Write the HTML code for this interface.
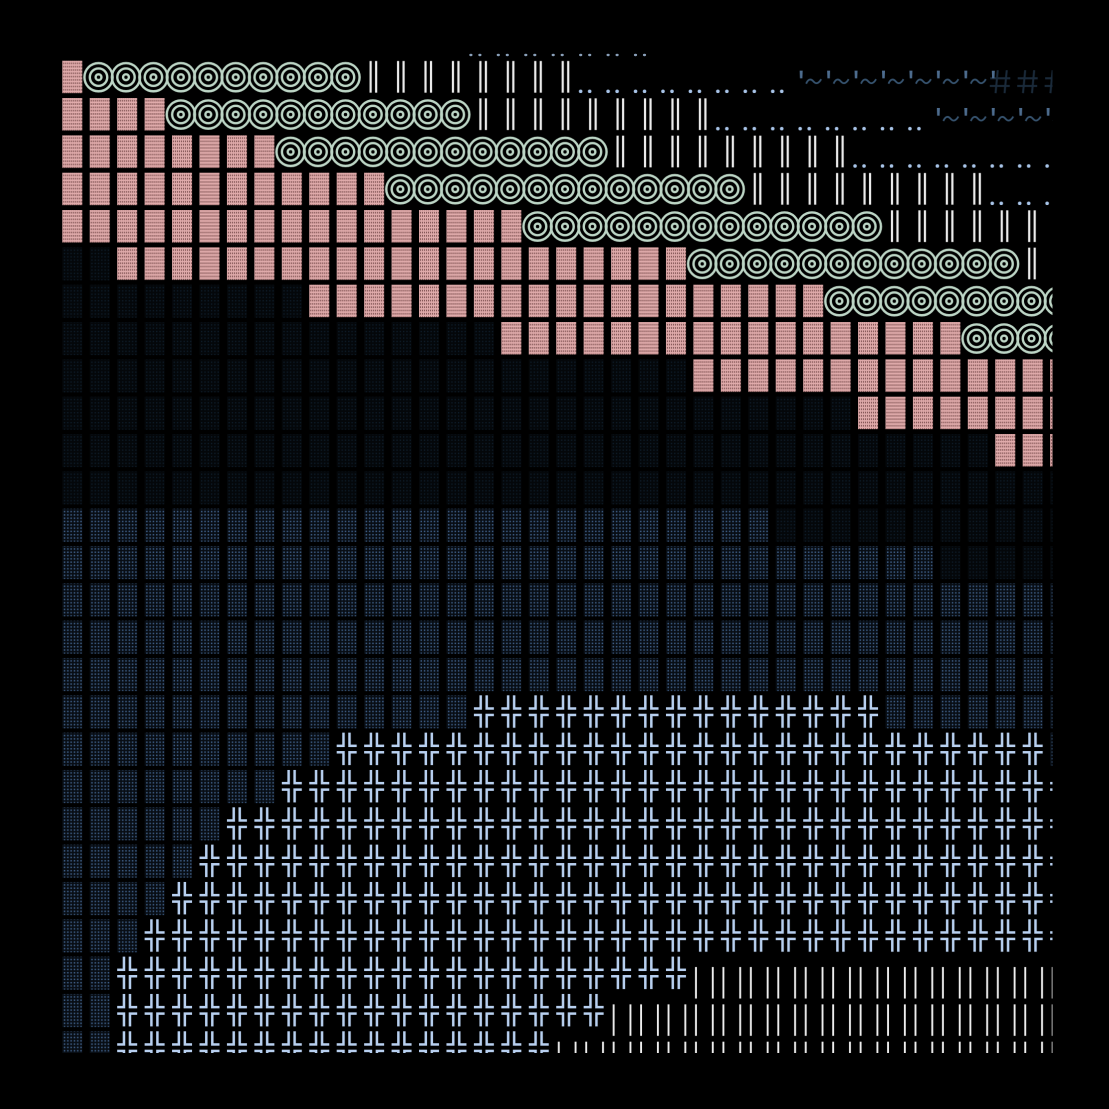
<!DOCTYPE html>
<html><head><meta charset="utf-8"><style>html,body{margin:0;padding:0;background:#000;}svg{display:block;}</style></head>
<body>
<svg xmlns="http://www.w3.org/2000/svg" width="1109" height="1109" viewBox="0 0 1109 1109">
<defs>
<clipPath id="cl"><rect x="0" y="53" width="1052.5" height="1000"/></clipPath>
<pattern id="ptex" patternUnits="userSpaceOnUse" width="2" height="3.3"><rect width="2" height="3.3" fill="#e0abab"/><rect x="1" y="0.6" width="1" height="1.6" fill="#744848"/></pattern>
<pattern id="btex" patternUnits="userSpaceOnUse" width="3.3" height="3.3"><rect width="3.3" height="3.3" fill="#080d14"/><rect x="0.9" y="0.9" width="1.5" height="1.5" fill="#3d5c84"/></pattern>
<pattern id="ktex" patternUnits="userSpaceOnUse" width="3.3" height="3.3"><rect width="3.3" height="3.3" fill="#04070a"/><rect x="1" y="1" width="1.2" height="1.2" fill="#0f1f2e"/></pattern>
<pattern id="P" patternUnits="userSpaceOnUse" x="56.3" y="58.7" width="27.44" height="37.33"><rect x="6" y="2" width="20" height="32.5" fill="url(#ptex)"/></pattern>
<pattern id="B" patternUnits="userSpaceOnUse" x="56.3" y="58.7" width="27.44" height="37.33"><rect x="6" y="2" width="20" height="33" fill="url(#btex)"/></pattern>
<pattern id="K" patternUnits="userSpaceOnUse" x="56.3" y="58.7" width="27.44" height="37.33"><rect x="6" y="2" width="20" height="33" fill="url(#ktex)"/></pattern>
<pattern id="V" patternUnits="userSpaceOnUse" x="56.3" y="58.7" width="27.44" height="37.33"><rect x="11.4" y="2.3" width="2.2" height="31.7" fill="#ececec"/><rect x="16.9" y="2.3" width="2.2" height="31.7" fill="#ececec"/></pattern>
<pattern id="D" patternUnits="userSpaceOnUse" x="56.3" y="58.7" width="27.44" height="37.33"><circle cx="3" cy="32.6" r="1.8" fill="#a8c4e8"/><circle cx="12" cy="32.6" r="1.8" fill="#a8c4e8"/></pattern>
<pattern id="T" patternUnits="userSpaceOnUse" x="56.3" y="58.7" width="27.44" height="37.33"><path d="M2.5,12 H5.5 L5.2,19.6 H2.8 Z" fill="#4d6c8e"/><path d="M9,25 C11,20 14,20 16,22.5 S21,26 24,20.5" fill="none" stroke="#36536f" stroke-width="1.8"/></pattern>
<pattern id="H" patternUnits="userSpaceOnUse" x="56.3" y="58.7" width="27.44" height="37.33"><g stroke="#1a2a3a" stroke-width="2" fill="none"><path d="M8.5,11.5 L6.3,34.5"/><path d="M17.5,11.5 L15.3,34.5"/><path d="M1,19.6 H21"/><path d="M0.5,27.3 H20.5"/></g></pattern>
<pattern id="X" patternUnits="userSpaceOnUse" x="56.3" y="58.7" width="27.44" height="37.33"><g stroke="#b8d0f0" stroke-width="2.5" fill="none"><path d="M12.8,2 V15.2 H6"/><path d="M18.8,2 V15.2 H26"/><path d="M6,21.6 H12.8 V34.5"/><path d="M26,21.6 H18.8 V34.5"/></g></pattern>
<pattern id="W" patternUnits="userSpaceOnUse" x="56.3" y="66.7" width="27.44" height="37.33"><rect x="7.6" y="4.4" width="1.9" height="31.5" fill="#eeeeee"/><rect x="24.4" y="4.4" width="1.9" height="31.5" fill="#eeeeee"/></pattern>
<pattern id="CE" patternUnits="userSpaceOnUse" x="43.66" y="58.7" width="54.88" height="37.33"><g fill="none" stroke="#bcd5c5" stroke-width="2.4"><circle cx="27.44" cy="18.5" r="14.1"/><circle cx="27.44" cy="18.5" r="8.7"/><circle cx="27.44" cy="18.5" r="2.9"/></g></pattern>
<pattern id="CO" patternUnits="userSpaceOnUse" x="71.1" y="58.7" width="54.88" height="37.33"><g fill="none" stroke="#bcd5c5" stroke-width="2.4"><circle cx="27.44" cy="18.5" r="14.1"/><circle cx="27.44" cy="18.5" r="8.7"/><circle cx="27.44" cy="18.5" r="2.9"/></g></pattern>
</defs>
<rect width="1109" height="1109" fill="#000"/>
<g clip-path="url(#cl)">
<g fill="#8aa0ba">
<ellipse cx="470.9" cy="55" rx="1.6" ry="1.2"/><ellipse cx="479.9" cy="55" rx="1.6" ry="1.2"/>
<ellipse cx="498.3" cy="55" rx="1.6" ry="1.2"/><ellipse cx="507.3" cy="55" rx="1.6" ry="1.2"/>
<ellipse cx="525.8" cy="55" rx="1.6" ry="1.2"/><ellipse cx="534.8" cy="55" rx="1.6" ry="1.2"/>
<ellipse cx="553.2" cy="55" rx="1.6" ry="1.2"/><ellipse cx="562.2" cy="55" rx="1.6" ry="1.2"/>
<ellipse cx="580.7" cy="55" rx="1.6" ry="1.2"/><ellipse cx="589.7" cy="55" rx="1.6" ry="1.2"/>
<ellipse cx="608.1" cy="55" rx="1.6" ry="1.2"/><ellipse cx="617.1" cy="55" rx="1.6" ry="1.2"/>
<ellipse cx="635.5" cy="55" rx="1.6" ry="1.2"/><ellipse cx="644.5" cy="55" rx="1.6" ry="1.2"/>
</g>
<rect x="56.3" y="58.7" width="27.44" height="37.33" fill="url(#P)"/>
<rect x="358.14" y="58.7" width="219.52" height="37.33" fill="url(#V)"/>
<rect x="577.66" y="58.7" width="219.52" height="37.33" fill="url(#D)"/>
<rect x="797.18" y="58.7" width="192.08" height="37.33" fill="url(#T)"/>
<rect x="989.26" y="58.7" width="82.32" height="37.33" fill="url(#H)"/>
<path d="M991.8,70.7 H994.8 L994.5,78.3 H992.1 Z" fill="#4d6c8e"/>
<rect x="56.3" y="96.03" width="109.76" height="37.33" fill="url(#P)"/>
<rect x="467.9" y="96.03" width="246.96" height="37.33" fill="url(#V)"/>
<rect x="714.86" y="96.03" width="219.52" height="37.33" fill="url(#D)"/>
<rect x="934.38" y="96.03" width="137.2" height="37.33" fill="url(#T)"/>
<rect x="56.3" y="133.36" width="219.52" height="37.33" fill="url(#P)"/>
<rect x="605.1" y="133.36" width="246.96" height="37.33" fill="url(#V)"/>
<rect x="852.06" y="133.36" width="219.52" height="37.33" fill="url(#D)"/>
<rect x="56.3" y="170.69" width="329.28" height="37.33" fill="url(#P)"/>
<rect x="742.3" y="170.69" width="246.96" height="37.33" fill="url(#V)"/>
<rect x="989.26" y="170.69" width="82.32" height="37.33" fill="url(#D)"/>
<rect x="56.3" y="208.02" width="466.48" height="37.33" fill="url(#P)"/>
<rect x="879.5" y="208.02" width="192.08" height="37.33" fill="url(#V)"/>
<rect x="56.3" y="245.35" width="54.88" height="37.33" fill="url(#K)"/>
<rect x="111.18" y="245.35" width="576.24" height="37.33" fill="url(#P)"/>
<rect x="1016.7" y="245.35" width="54.88" height="37.33" fill="url(#V)"/>
<rect x="56.3" y="282.68" width="246.96" height="37.33" fill="url(#K)"/>
<rect x="303.26" y="282.68" width="521.36" height="37.33" fill="url(#P)"/>
<rect x="56.3" y="320.01" width="439.04" height="37.33" fill="url(#K)"/>
<rect x="495.34" y="320.01" width="466.48" height="37.33" fill="url(#P)"/>
<rect x="56.3" y="357.34" width="631.12" height="37.33" fill="url(#K)"/>
<rect x="687.42" y="357.34" width="384.16" height="37.33" fill="url(#P)"/>
<rect x="56.3" y="394.67" width="795.76" height="37.33" fill="url(#K)"/>
<rect x="852.06" y="394.67" width="219.52" height="37.33" fill="url(#P)"/>
<rect x="56.3" y="432" width="932.96" height="37.33" fill="url(#K)"/>
<rect x="989.26" y="432" width="82.32" height="37.33" fill="url(#P)"/>
<rect x="56.3" y="469.33" width="1015.28" height="37.33" fill="url(#K)"/>
<rect x="56.3" y="506.66" width="713.44" height="37.33" fill="url(#B)"/>
<rect x="769.74" y="506.66" width="301.84" height="37.33" fill="url(#K)"/>
<rect x="56.3" y="543.99" width="878.08" height="37.33" fill="url(#B)"/>
<rect x="934.38" y="543.99" width="137.2" height="37.33" fill="url(#K)"/>
<rect x="56.3" y="581.32" width="1015.28" height="111.99" fill="url(#B)"/>
<rect x="56.3" y="693.31" width="411.6" height="37.33" fill="url(#B)"/>
<rect x="467.9" y="693.31" width="411.6" height="37.33" fill="url(#X)"/>
<rect x="879.5" y="693.31" width="192.08" height="37.33" fill="url(#B)"/>
<rect x="56.3" y="730.64" width="274.4" height="37.33" fill="url(#B)"/>
<rect x="330.7" y="730.64" width="713.44" height="37.33" fill="url(#X)"/>
<rect x="1044.14" y="730.64" width="27.44" height="37.33" fill="url(#B)"/>
<rect x="56.3" y="767.97" width="219.52" height="37.33" fill="url(#B)"/>
<rect x="275.82" y="767.97" width="795.76" height="37.33" fill="url(#X)"/>
<rect x="56.3" y="805.3" width="164.64" height="37.33" fill="url(#B)"/>
<rect x="220.94" y="805.3" width="850.64" height="37.33" fill="url(#X)"/>
<rect x="56.3" y="842.63" width="137.2" height="37.33" fill="url(#B)"/>
<rect x="193.5" y="842.63" width="878.08" height="37.33" fill="url(#X)"/>
<rect x="56.3" y="879.96" width="109.76" height="37.33" fill="url(#B)"/>
<rect x="166.06" y="879.96" width="905.52" height="37.33" fill="url(#X)"/>
<rect x="56.3" y="917.29" width="82.32" height="37.33" fill="url(#B)"/>
<rect x="138.62" y="917.29" width="932.96" height="37.33" fill="url(#X)"/>
<rect x="56.3" y="954.62" width="54.88" height="111.99" fill="url(#B)"/>
<rect x="111.18" y="954.62" width="576.24" height="37.33" fill="url(#X)"/>
<rect x="687.42" y="962.62" width="384.16" height="37.33" fill="url(#W)"/>
<rect x="111.18" y="991.95" width="493.92" height="37.33" fill="url(#X)"/>
<rect x="605.1" y="999.95" width="466.48" height="37.33" fill="url(#W)"/>
<rect x="111.18" y="1029.28" width="439.04" height="37.33" fill="url(#X)"/>
<rect x="550.22" y="1037.28" width="521.36" height="37.33" fill="url(#W)"/>
<rect x="82.54" y="58.7" width="251.52" height="37.33" fill="url(#CO)"/>
<rect x="109.98" y="58.7" width="251.52" height="37.33" fill="url(#CE)"/>
<rect x="164.86" y="96.03" width="306.4" height="37.33" fill="url(#CE)"/>
<rect x="192.3" y="96.03" width="251.52" height="37.33" fill="url(#CO)"/>
<rect x="274.62" y="133.36" width="306.4" height="37.33" fill="url(#CE)"/>
<rect x="302.06" y="133.36" width="306.4" height="37.33" fill="url(#CO)"/>
<rect x="384.38" y="170.69" width="361.28" height="37.33" fill="url(#CE)"/>
<rect x="411.82" y="170.69" width="306.4" height="37.33" fill="url(#CO)"/>
<rect x="521.58" y="208.02" width="361.28" height="37.33" fill="url(#CO)"/>
<rect x="549.02" y="208.02" width="306.4" height="37.33" fill="url(#CE)"/>
<rect x="686.22" y="245.35" width="306.4" height="37.33" fill="url(#CO)"/>
<rect x="713.66" y="245.35" width="306.4" height="37.33" fill="url(#CE)"/>
<rect x="823.42" y="282.68" width="251.52" height="37.33" fill="url(#CE)"/>
<rect x="850.86" y="282.68" width="196.64" height="37.33" fill="url(#CO)"/>
<rect x="960.62" y="320.01" width="86.88" height="37.33" fill="url(#CO)"/>
<rect x="988.06" y="320.01" width="86.88" height="37.33" fill="url(#CE)"/>
</g>
</svg>
</body></html>
